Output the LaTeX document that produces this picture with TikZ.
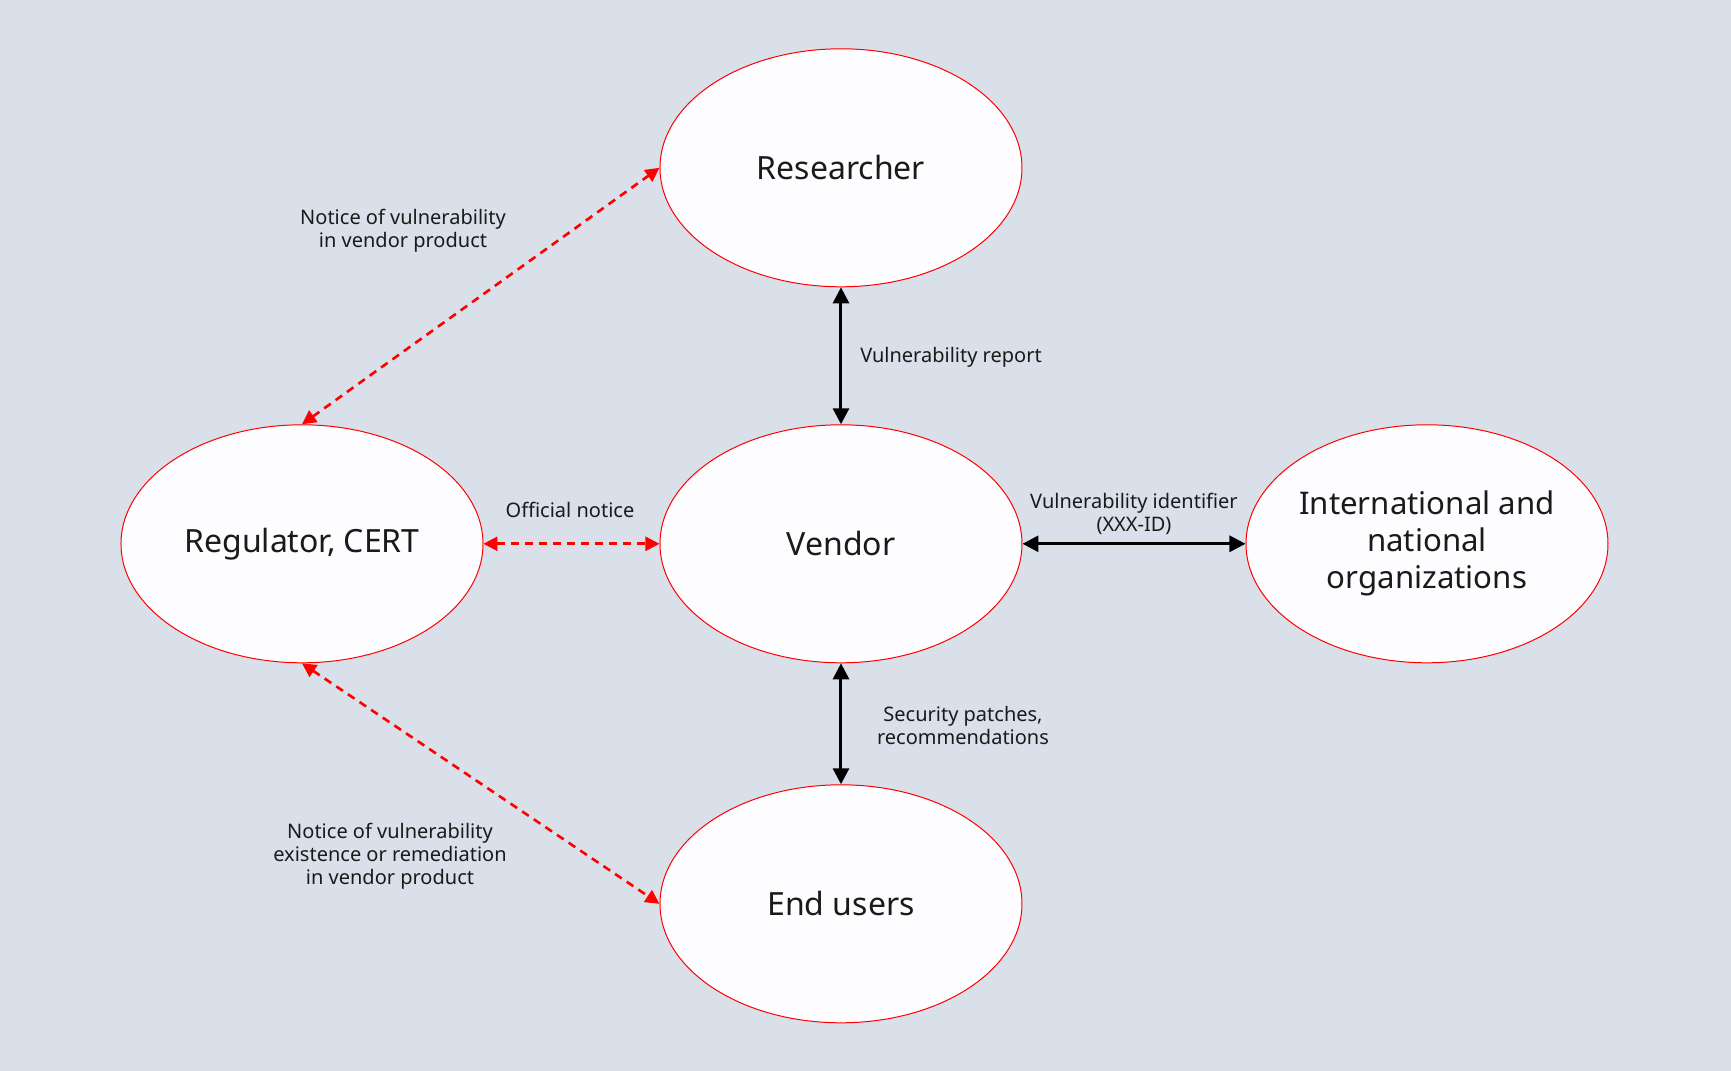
\documentclass[tikz,border=0pt]{standalone}
\usepackage{fontspec}
\setmainfont{Noto Sans}
\usetikzlibrary{shapes.geometric,positioning,arrows.meta}
\definecolor{bgblue}{HTML}{DAE0EA}
\definecolor{nodefill}{HTML}{FDFDFF}
\definecolor{linered}{HTML}{FF0000}
\definecolor{textdark}{HTML}{1A1A1A}

\begin{document}
\begin{tikzpicture}[
    actor/.style={ellipse, draw=linered, fill=nodefill, line width=0.5pt, minimum width=181pt, minimum height=119pt, inner sep=0pt, align=center, font=\fontsize{16}{19}\selectfont, text=textdark},
    note/.style={align=center, font=\fontsize{10}{11.5}\selectfont, text=textdark},
    flow/.style={line width=1.5pt, {Triangle[length=8pt,width=8pt]}-{Triangle[length=8pt,width=8pt]}},
    notice/.style={line width=1.3pt, linered, dash pattern=on 4pt off 3pt, {Triangle[length=7pt,width=7pt]}-{Triangle[length=7pt,width=7pt]}}
]
    \fill[bgblue] (-420.5pt,-263.6pt) rectangle (445pt,271.9pt);
    \useasboundingbox (-420.5pt,-263.6pt) rectangle (445pt,271.9pt);

    \node (vendor) [actor] at (0,0) {Vendor};
    \node (researcher) [actor, above=68.5pt of vendor] {Researcher};
    \node (users) [actor, below=60.5pt of vendor] {End users};
    \node (regulator) [actor, left=88pt of vendor] {Regulator, CERT};
    \node (intl) [actor, inner xsep=-6pt, font=\fontsize{15.6}{18.5}\selectfont, right=111.5pt of vendor] {International and\\national\\organizations};

    \draw[flow] (researcher) -- (vendor);
    \draw[flow] (vendor) -- (users);
    \draw[flow] (vendor) -- (intl);
    \draw[notice] (regulator) -- (vendor);
    \draw[notice] (regulator.north) -- (researcher.west);
    \draw[notice] (regulator.south) -- (users.west);

    \node (reportlbl) [note] at (55pt,93pt) {Vulnerability report};
    \node (patchlbl) [note] at (61pt,-91pt) {Security patches,\\recommendations};
    \node (idlbl) [note] at (146.5pt,15pt) {Vulnerability identifier\\(XXX-ID)};
    \node (officiallbl) [note] at (-135.5pt,17pt) {Official notice};
    \node (notice1lbl) [note] at (-219pt,156.5pt) {Notice of vulnerability\\in vendor product};
    \node (notice2lbl) [note] at (-225.5pt,-156pt) {Notice of vulnerability\\existence or remediation\\in vendor product};
\end{tikzpicture}
\end{document}
